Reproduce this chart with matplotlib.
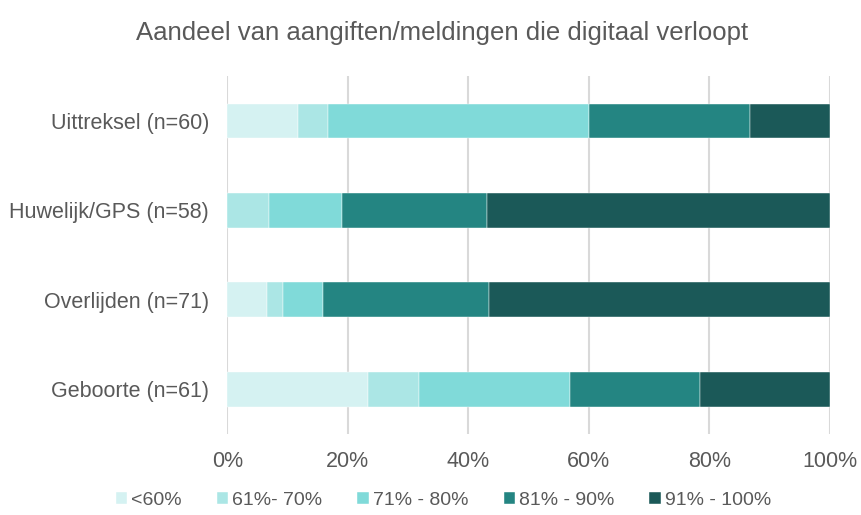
import matplotlib.pyplot as plt
import numpy as np

plt.rcParams["font.family"] = ["Liberation Sans", "DejaVu Sans"]

categories = ["Geboorte (n=61)", "Overlijden (n=71)", "Huwelijk/GPS (n=58)", "Uittreksel (n=60)"]
series = ["<60%", "61%- 70%", "71% - 80%", "81% - 90%", "91% - 100%"]
# percentage per category (rows follow categories, columns follow series)
values = [
    [23.3, 8.5, 25.0, 21.7, 21.5],
    [6.6, 2.6, 6.6, 27.6, 56.6],
    [0.0, 6.9, 12.1, 24.1, 56.9],
    [11.7, 5.0, 43.3, 26.7, 13.3],
]
colors = ["#d5f2f2", "#abe6e5", "#80dad9", "#248582", "#1b5958"]
title = "Aandeel van aangiften/meldingen die digitaal verloopt"

text_color = "#595959"

fig = plt.figure(figsize=(8.61, 5.15), dpi=100)
ax = fig.add_axes([0.264, 0.157, 0.700, 0.695])

data = np.array(values) / 100
y = np.arange(len(categories))
left = np.zeros(len(categories))
for j, name in enumerate(series):
    ax.barh(y, data[:, j], left=left, height=0.39, color=colors[j],
            label=name, zorder=2, edgecolor="white", linewidth=0.3)
    left += data[:, j]

ax.set_xlim(0, 1)
ax.set_ylim(-0.5, len(categories) - 0.5)
ax.set_xticks(np.linspace(0, 1, 6))
ax.set_xticklabels([f"{int(v)}%" for v in np.linspace(0, 100, 6)])
ax.set_yticks(y)
ax.set_yticklabels(categories)
ax.grid(axis="x", color="#d9d9d9", linewidth=1.5, zorder=0)
ax.tick_params(length=0, colors=text_color, labelsize=15.5)
ax.tick_params(axis="x", pad=12)
ax.tick_params(axis="y", pad=13)
for s in ax.spines.values():
    s.set_visible(False)

fig.text(0.513, 0.935, title, ha="center", va="center", fontsize=18.5, color=text_color)

fig.legend(loc="center", bbox_to_anchor=(0.515, 0.028), ncol=5, frameon=False,
           fontsize=14, labelcolor=text_color, handlelength=0.6, handleheight=0.6,
           handletextpad=0.2, columnspacing=1.8)

fig.savefig("out.png", dpi=100)
